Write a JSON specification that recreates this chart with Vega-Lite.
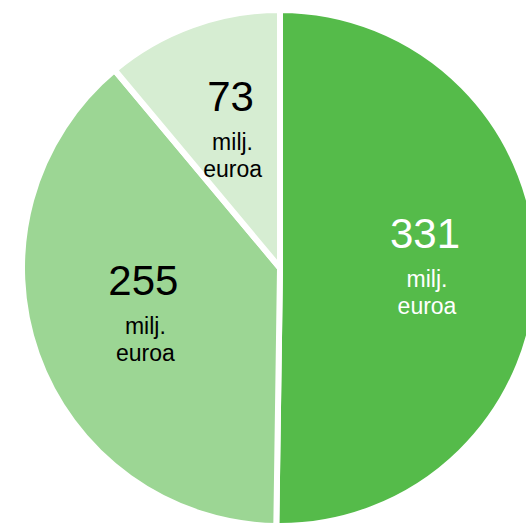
{
  "$schema": "https://vega.github.io/schema/vega-lite/v6.json",
  "width": 560,
  "height": 536,
  "autosize": "none",
  "padding": 0,
  "background": "white",
  "config": {"view": {"stroke": null}, "font": "Liberation Sans"},
  "data": {"values": [
    {"category": "A", "value": 331, "label": "331", "order": 1},
    {"category": "B", "value": 255, "label": "255", "order": 2},
    {"category": "C", "value": 73, "label": "73", "order": 3}
  ]},
  "encoding": {
    "theta": {"field": "value", "type": "quantitative", "stack": true},
    "order": {"field": "order", "type": "quantitative"}
  },
  "layer": [
    {
      "mark": {"type": "arc", "outerRadius": 258, "stroke": "white", "strokeWidth": 6},
      "encoding": {
        "color": {"field": "category", "type": "nominal", "legend": null,
          "scale": {"domain": ["A", "B", "C"], "range": ["#55bb4a", "#9cd694", "#d6edd2"]}}
      }
    },
    {
      "mark": {"type": "text", "radius": 145, "fontSize": 42, "dy": -34, "baseline": "middle", "align": "center"},
      "encoding": {
        "text": {"field": "label"},
        "color": {"condition": {"test": "datum.value > 300", "value": "white"}, "value": "black"}
      }
    },
    {
      "mark": {"type": "text", "radius": 145, "fontSize": 23, "dy": 18, "dx": 2, "baseline": "alphabetic", "align": "center", "text": "milj."},
      "encoding": {
        "color": {"condition": {"test": "datum.value > 300", "value": "white"}, "value": "black"}
      }
    },
    {
      "mark": {"type": "text", "radius": 145, "fontSize": 23, "dy": 45, "dx": 2, "baseline": "alphabetic", "align": "center", "text": "euroa"},
      "encoding": {
        "color": {"condition": {"test": "datum.value > 300", "value": "white"}, "value": "black"}
      }
    }
  ]
}
